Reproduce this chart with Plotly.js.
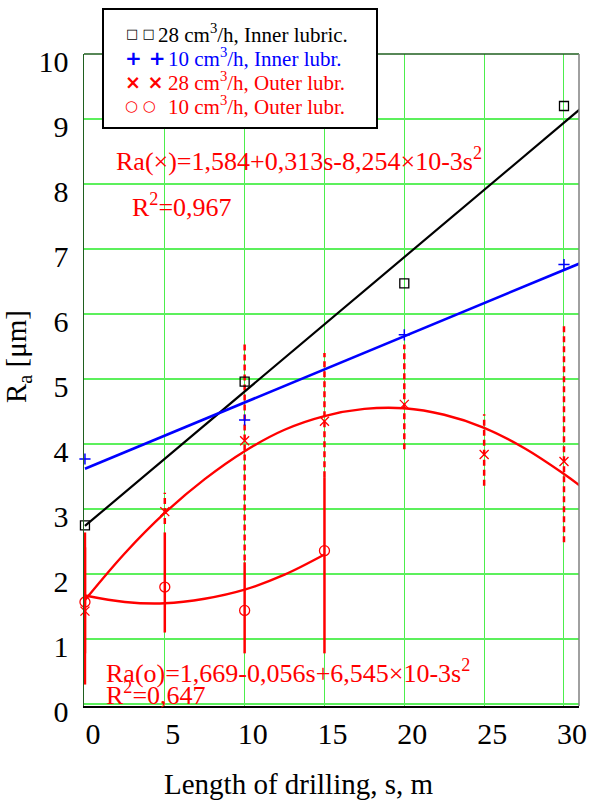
<!DOCTYPE html>
<html>
<head>
<meta charset="utf-8">
<script src="https://cdn.plot.ly/plotly-3.0.1.min.js"></script>
<style>html,body{margin:0;padding:0;background:#fff;}</style>
</head>
<body>
<div id="chart" style="width:592px;height:801px;"></div>
<script>
// ---- data ----
const xInner = [0, 10, 20, 30];
const ra28Inner = [2.75, 4.96, 6.47, 9.2];
const ra10Inner = [3.77, 4.37, 5.68, 6.76];

const xOuter28 = [0, 5, 10, 15, 20, 25, 30];
const ra28Outer = [1.43, 2.96, 4.05, 4.35, 4.61, 3.84, 3.73];
const ra28OuterLow = [0.3, 2.77, 2.21, 3.49, 3.92, 3.36, 2.49];
const ra28OuterHigh = [2.64, 3.25, 5.53, 5.40, 5.53, 4.46, 5.86];

const xOuter10 = [0, 5, 10, 15];
const ra10Outer = [1.57, 1.80, 1.44, 2.36];
const ra10OuterLow = [0.78, 1.1, 0.78, 0.78];
const ra10OuterHigh = [2.41, 2.64, 2.18, 3.49];

// fitted lines / curves as drawn
const fitLineX = [0, 31];
const fit28Inner = [2.74, 9.15];
const fit10Inner = [3.62, 6.78];
const fitCurveX28 = [0, 2.5, 5, 7.5, 10, 12.5, 15, 17.5, 20, 22.5, 25, 27.5, 30, 31];
const fitCurve28Outer = [1.60, 2.32, 2.94, 3.46, 3.89, 4.22, 4.43, 4.54, 4.55, 4.45, 4.25, 3.94, 3.54, 3.36];
const fitCurveX10 = [0, 2.5, 5, 7.5, 10, 12.5, 15];
const fitCurve10Outer = [1.67, 1.57, 1.55, 1.62, 1.76, 1.99, 2.30];

const xTicks = [0, 5, 10, 15, 20, 25, 30];
const yTicks = [0, 1, 2, 3, 4, 5, 6, 7, 8, 9, 10];

const legendLabels = [
  "28 cm<sup>3</sup>/h, Inner lubric.",
  "10 cm<sup>3</sup>/h, Inner lubr.",
  "28 cm<sup>3</sup>/h, Outer lubr.",
  "10 cm<sup>3</sup>/h, Outer lubr."
];
const legendSymbols = ["\u25A1 \u25A1", "+ +", "\u00D7 \u00D7", "\u25CB \u25CB"];
const eqOuter28 = "Ra(\u00D7)=1,584+0,313s-8,254\u00D710-3s<sup>2</sup>";
const r2Outer28 = "R<sup>2</sup>=0,967";
const eqOuter10 = "Ra(o)=1,669-0,056s+6,545\u00D710-3s<sup>2</sup>";
const r2Outer10 = "R<sup>2</sup>=0,647";
const xTitle = "Length of drilling, s, m";
const yTitle = "R<sub>a</sub> [\u03BCm]";

// ---- build error-bar segments ----
function segs(xs, lo, hi, idx) {
  const X = [], Y = [];
  idx.forEach(i => { X.push(xs[i], xs[i], null); Y.push(lo[i], hi[i], null); });
  return {X, Y};
}
const dashedIdx = xOuter28.map((_, i) => i).filter(i => i > 0);
const dashed = segs(xOuter28, ra28OuterLow, ra28OuterHigh, dashedIdx);
const solidA = segs(xOuter28, ra28OuterLow, ra28OuterHigh, [0]);
const solidB = segs(xOuter10, ra10OuterLow, ra10OuterHigh, xOuter10.map((_, i) => i));

const RED = "#ff0000", BLUE = "#0000ff", BLACK = "#000000";
const SERIF = "'Liberation Serif', 'Times New Roman', serif";

const traces = [
  {x: dashed.X, y: dashed.Y, mode: "lines", line: {color: RED, width: 2.5, dash: "6px,4px"}, showlegend: false, hoverinfo: "skip"},
  {x: solidA.X.concat(solidB.X), y: solidA.Y.concat(solidB.Y), mode: "lines", line: {color: RED, width: 2.5}, showlegend: false, hoverinfo: "skip"},
  {x: fitLineX, y: fit28Inner, mode: "lines", line: {color: BLACK, width: 2.2}, showlegend: false},
  {x: fitLineX, y: fit10Inner, mode: "lines", line: {color: BLUE, width: 2.6}, showlegend: false},
  {x: fitCurveX28, y: fitCurve28Outer, mode: "lines", line: {color: RED, width: 2.4, shape: "spline"}, showlegend: false},
  {x: fitCurveX10, y: fitCurve10Outer, mode: "lines", line: {color: RED, width: 2.4, shape: "spline"}, showlegend: false},
  {x: xInner, y: ra28Inner, mode: "markers", name: "28 cm3/h, Inner lubric.", marker: {symbol: "square-open", size: 9, color: BLACK, line: {width: 1.3}}, showlegend: false, cliponaxis: false},
  {x: xInner, y: ra10Inner, mode: "markers", name: "10 cm3/h, Inner lubr.", marker: {symbol: "cross-thin", size: 8, color: BLUE, line: {color: BLUE, width: 1.5}}, showlegend: false, cliponaxis: false},
  {x: xOuter28, y: ra28Outer, mode: "markers", name: "28 cm3/h, Outer lubr.", marker: {symbol: "x-thin", size: 9, color: RED, line: {color: RED, width: 1.3}}, showlegend: false, cliponaxis: false},
  {x: xOuter10, y: ra10Outer, mode: "markers", name: "10 cm3/h, Outer lubr.", marker: {symbol: "circle-open", size: 10, color: RED, line: {width: 1.3}}, showlegend: false, cliponaxis: false}
];

// pixel helpers for paper coordinates (plot area 84..579 x 54..706)
const L = 84, R = 13, T = 54, B = 95, W = 592, H = 801;
const pw = W - L - R, ph = H - T - B;
const px = v => (v - L) / pw;
const py = v => (H - B - v) / ph;

const legendColors = [BLACK, BLUE, RED, RED];
const symbolFonts = [
  {size: 13, color: BLACK, family: "DejaVu Sans"},
  {size: 20, color: BLUE, family: "DejaVu Sans", weight: "bold"},
  {size: 19, color: RED, family: "DejaVu Sans", weight: "bold"},
  {size: 15, color: RED, family: "DejaVu Sans"}
];
const rowY = [33, 57.5, 82, 106];
const symX = [124, 123, 123, 123];
const txtX = [156, 166, 166, 166];

const annotations = [];
legendLabels.forEach((t, i) => {
  annotations.push({xref: "paper", yref: "paper", x: px(symX[i]), y: py(rowY[i]), xanchor: "left", yanchor: "middle",
    text: legendSymbols[i], showarrow: false, font: symbolFonts[i]});
  annotations.push({xref: "paper", yref: "paper", x: px(txtX[i]), y: py(rowY[i]), xanchor: "left", yanchor: "middle",
    text: t, showarrow: false, font: {family: SERIF, size: 21, color: legendColors[i]}});
});
const eqs = [
  [eqOuter28, 114, 160],
  [r2Outer28, 130, 205],
  [eqOuter10, 104, 671],
  [r2Outer10, 104, 693]
];
eqs.forEach(e => annotations.push({xref: "paper", yref: "paper", x: px(e[1]), y: py(e[2]), xanchor: "left", yanchor: "middle",
  text: e[0], showarrow: false, font: {family: SERIF, size: 26, color: RED}}));
// axis titles
annotations.push({xref: "paper", yref: "paper", x: px(298), y: py(784), xanchor: "center", yanchor: "middle",
  text: xTitle, showarrow: false, font: {family: SERIF, size: 29, color: BLACK}});
annotations.push({xref: "paper", yref: "paper", x: px(18), y: py(357), xanchor: "center", yanchor: "middle", textangle: -90,
  text: yTitle, showarrow: false, font: {family: SERIF, size: 29, color: BLACK}});

const shapes = [
  {type: "line", xref: "paper", yref: "paper", x0: 0, x1: 1, y0: 1, y1: 1, line: {color: "#1f5f1f", width: 1.5}},
  {type: "line", xref: "paper", yref: "paper", x0: 1, x1: 1, y0: 0, y1: 1, line: {color: "#808080", width: 1.5}},
  {type: "rect", xref: "paper", yref: "paper", x0: px(103), x1: px(377), y0: py(9), y1: py(128),
    line: {color: BLACK, width: 2}, fillcolor: "#ffffff", layer: "above"}
];

const layout = {
  width: W, height: H,
  margin: {l: L, r: R, t: T, b: B, pad: 0},
  paper_bgcolor: "#ffffff", plot_bgcolor: "#ffffff",
  showlegend: false,
  font: {family: SERIF, color: BLACK},
  xaxis: {
    range: [-0.06, 30.94], tickvals: xTicks, ticktext: xTicks.map(String),
    showgrid: true, gridcolor: "#4cee4c", gridwidth: 1, zeroline: false,
    showline: true, linecolor: BLACK, linewidth: 1.5,
    ticks: "", tickfont: {family: SERIF, size: 30, color: BLACK},
    ticklabelshift: 8, ticklabelstandoff: 0
  },
  yaxis: {
    range: [-0.03, 10], tickvals: yTicks, ticktext: yTicks.map(String),
    showgrid: true, gridcolor: "#5cf05c", gridwidth: 1.5, zeroline: false,
    showline: true, linecolor: "#1f5f1f", linewidth: 1.5,
    ticks: "", tickfont: {family: SERIF, size: 30, color: BLACK},
    ticklabelshift: 7, ticklabelstandoff: 8
  },
  shapes: shapes,
  annotations: annotations
};

Plotly.newPlot("chart", traces, layout, {staticPlot: true, displayModeBar: false});
</script>
</body>
</html>
